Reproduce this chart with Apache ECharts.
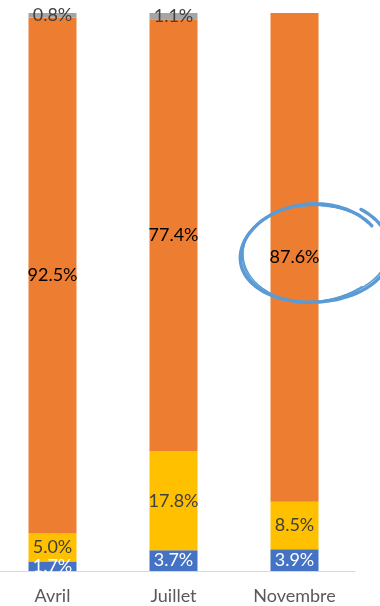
<!DOCTYPE html>
<html>
<head>
<meta charset="utf-8">
<script src="https://cdn.jsdelivr.net/npm/echarts@6/dist/echarts.min.js"></script>
<style>
  html, body { margin: 0; padding: 0; background: #fff; overflow: hidden; }
  #wrap { position: relative; width: 380px; height: 606px; overflow: hidden; }
  #chart { position: absolute; left: -8px; top: 0; width: 388px; height: 606px; }
</style>
</head>
<body>
<div id="wrap"><div id="chart"></div></div>
<script>
// Survey share by month (percent), stacked bottom to top
var months = ['Avril', 'Juillet', 'Novembre'];
var blueShare = [1.7, 3.7, 3.9];
var yellowShare = [5.0, 17.8, 8.5];
var orangeShare = [92.5, 77.4, 87.6];
var greyShare = [0.8, 1.1, 0];

var FONT = 'Lato, "Open Sans", sans-serif';

function pctLabel(color) {
  return {
    show: true,
    position: 'inside',
    fontFamily: FONT,
    fontSize: 18,
    color: color,
    formatter: function (p) { return p.value > 0 ? p.value.toFixed(1) + '%' : ''; }
  };
}

function stackSeries(name, data, color, labelColor) {
  return {
    name: name,
    type: 'bar',
    stack: 'total',
    barWidth: 48,
    data: data,
    itemStyle: { color: color },
    label: pctLabel(labelColor),
    emphasis: { disabled: true }
  };
}

var chart = echarts.init(document.getElementById('chart'), null, { renderer: 'canvas' });

chart.setOption({
  animation: false,
  grid: { left: 0, right: 25, top: 13, bottom: 35, containLabel: false },
  xAxis: {
    type: 'category',
    data: months,
    axisLine: { lineStyle: { color: '#d9d9d9', width: 1 } },
    axisTick: { show: false },
    axisLabel: { color: '#595959', fontFamily: FONT, fontSize: 18, margin: 16 }
  },
  yAxis: {
    type: 'value',
    min: 0,
    max: 100,
    show: false
  },
  series: [
    stackSeries('bleu', blueShare, '#4472c4', '#ffffff'),
    stackSeries('jaune', yellowShare, '#ffc000', '#404040'),
    stackSeries('orange', orangeShare, '#ed7d31', '#000000'),
    stackSeries('gris', greyShare, '#a5a5a5', '#404040')
  ]
});

// Hand-drawn highlight loop around the November orange value
function drawHighlight() {
  var i = 2;
  var mid = blueShare[i] + yellowShare[i] + orangeShare[i] / 2;
  var pt = chart.convertToPixel({ gridIndex: 0 }, [months[i], mid]);
  var cx = pt[0] + 19, cy = pt[1] - 5;
  var rx = 70, ry = 47;
  var tilt = -0.06;

  function loop(startDeg, sweepDeg, dr, phase) {
    var pts = [];
    var n = 120;
    for (var k = 0; k <= n; k++) {
      var t = (startDeg + sweepDeg * k / n) * Math.PI / 180;
      var grow = 1 + dr * k / n + 0.015 * Math.sin(3 * t + phase);
      var x = rx * grow * Math.cos(t);
      var y = ry * grow * Math.sin(t);
      pts.push([
        cx + x * Math.cos(tilt) - y * Math.sin(tilt),
        cy + x * Math.sin(tilt) + y * Math.cos(tilt)
      ]);
    }
    return pts;
  }

  var strokes = [
    { pts: loop(-30, -380, 0.12, 0), w: 3.4 },
    { pts: loop(-40, -330, 0.07, 1.3), w: 1.6 },
    { pts: loop(-60, -250, 0.04, 2.1), w: 1.3 }
  ];

  chart.setOption({
    graphic: strokes.map(function (s) {
      return {
        type: 'polyline',
        silent: true,
        z: 100,
        shape: { points: s.pts, smooth: 0.3 },
        style: { stroke: '#5b9bd5', lineWidth: s.w, fill: null, lineCap: 'round', lineJoin: 'round' }
      };
    })
  });
}

drawHighlight();
</script>
</body>
</html>
